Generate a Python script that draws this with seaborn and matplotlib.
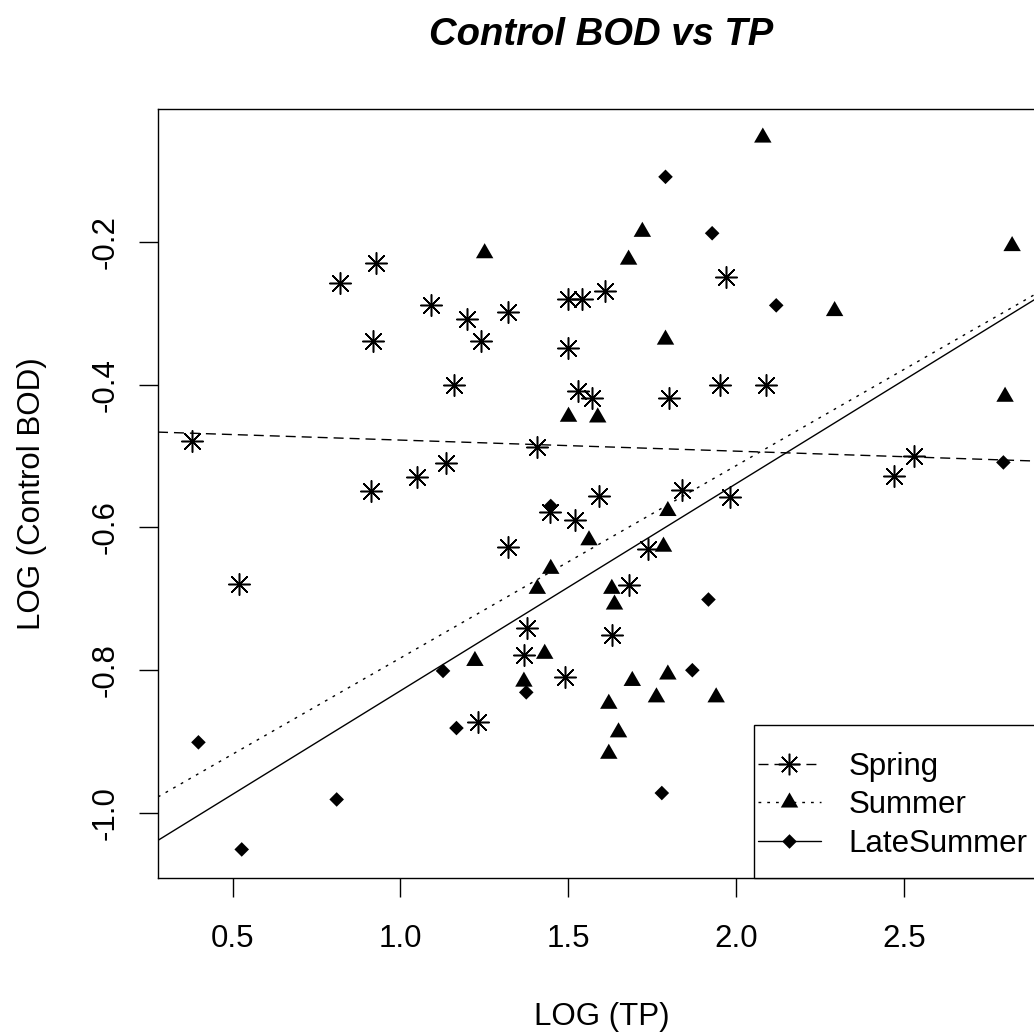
import numpy as np
import pandas as pd
import matplotlib
matplotlib.use("Agg")
import matplotlib.pyplot as plt
from matplotlib.path import Path
from matplotlib.lines import Line2D
from matplotlib.patches import Rectangle
import seaborn as sns

# ---------------- data ----------------
spring_x = [0.379, 0.520, 0.820, 0.928, 0.917, 0.912, 1.090, 1.048, 1.160, 1.137,
            1.199, 1.239, 1.321, 1.321, 1.231, 1.408, 1.378, 1.368, 1.447, 1.519,
            1.490, 1.500, 1.541, 1.499, 1.529, 1.571, 1.609, 1.591, 1.630, 1.681,
            1.738, 1.799, 1.839, 1.953, 1.971, 1.981, 2.090, 2.472, 2.530]
spring_y = [-0.479, -0.679, -0.258, -0.230, -0.339, -0.549, -0.289, -0.530, -0.400, -0.510,
            -0.308, -0.339, -0.299, -0.628, -0.872, -0.488, -0.741, -0.779, -0.579, -0.590,
            -0.810, -0.280, -0.280, -0.349, -0.409, -0.419, -0.269, -0.556, -0.750, -0.680,
            -0.630, -0.419, -0.548, -0.400, -0.249, -0.558, -0.400, -0.528, -0.500]

summer_x = [1.251, 1.501, 1.588, 2.080, 1.721, 1.680, 2.823, 2.294, 1.790, 2.802,
            1.562, 1.448, 1.408, 1.222, 1.430, 1.368, 1.797, 1.784, 1.630, 1.638,
            1.691, 1.797, 1.621, 1.763, 1.941, 1.650, 1.621]
summer_y = [-0.216, -0.445, -0.446, -0.054, -0.186, -0.225, -0.206, -0.297, -0.337, -0.417,
            -0.618, -0.658, -0.686, -0.787, -0.777, -0.816, -0.577, -0.627, -0.686, -0.708,
            -0.815, -0.806, -0.847, -0.838, -0.838, -0.887, -0.917]

late_x = [1.790, 1.929, 2.120, 2.797, 1.448, 1.127, 1.375, 1.167, 0.398, 0.810,
          0.527, 1.918, 1.870, 1.779]
late_y = [-0.109, -0.188, -0.289, -0.509, -0.570, -0.801, -0.831, -0.881, -0.901, -0.981,
          -1.051, -0.701, -0.800, -0.972]

seasons = ["Spring", "Summer", "LateSummer"]
fit_intercept = [-0.4622, -1.0522, -1.1187]
fit_slope = [-0.0155, 0.2693, 0.2899]

x_ticks = [0.5, 1.0, 1.5, 2.0, 2.5]
x_tick_labels = ["0.5", "1.0", "1.5", "2.0", "2.5"]
y_ticks = [-1.0, -0.8, -0.6, -0.4, -0.2]
y_tick_labels = ["-1.0", "-0.8", "-0.6", "-0.4", "-0.2"]

title = "Control BOD vs TP"
x_label = "LOG (TP)"
y_label = "LOG (Control BOD)"

# ---------------- styling ----------------
sns.set_theme(style="ticks", rc={
    "axes.edgecolor": "black", "text.color": "black", "axes.labelcolor": "black",
    "xtick.color": "black", "ytick.color": "black", "axes.linewidth": 1.0,
    "axes.unicode_minus": False,
})
plt.rcParams["font.family"] = ["Liberation Sans", "DejaVu Sans"]

df = pd.concat([
    pd.DataFrame({"x": spring_x, "y": spring_y, "season": "Spring"}),
    pd.DataFrame({"x": summer_x, "y": summer_y, "season": "Summer"}),
    pd.DataFrame({"x": late_x, "y": late_y, "season": "LateSummer"}),
], ignore_index=True)

tri = Path([(0, 1), (-0.866, -0.5), (0.866, -0.5), (0, 1)],
           [Path.MOVETO, Path.LINETO, Path.LINETO, Path.CLOSEPOLY])
dia = Path([(0, 1), (1, 0), (0, -1), (-1, 0), (0, 1)],
           [Path.MOVETO, Path.LINETO, Path.LINETO, Path.LINETO, Path.CLOSEPOLY])
ast = (8, 2, 0)

marker_map = {"Spring": ast, "Summer": tri, "LateSummer": dia}
size_map = {"Spring": 15.5, "Summer": 14.5, "LateSummer": 10.5}
ls_map = {"Spring": (0, (7.2, 4.3)), "Summer": (0, (2.0, 4.3)), "LateSummer": "-"}

FS = 22.5
fig = plt.figure(figsize=(10.34, 10.32), dpi=100)
ax = fig.add_axes([158 / 1034, 1 - 878 / 1032, (1045 - 158) / 1034, (878 - 109) / 1032])

for s in seasons:
    sub = df[df["season"] == s]
    if s == "Spring":
        sns.scatterplot(data=sub, x="x", y="y", ax=ax, marker=marker_map[s],
                        s=size_map[s] ** 2, color="black", linewidth=1.1, legend=False)
    else:
        sns.scatterplot(data=sub, x="x", y="y", ax=ax, marker=marker_map[s],
                        s=size_map[s] ** 2, color="black", edgecolor="none",
                        linewidth=0, legend=False)

for s, b, m in zip(seasons, fit_intercept, fit_slope):
    ax.axline((0, b), slope=m, color="black", lw=1.0, ls=ls_map[s])

ax.set_xlim(0.2775, 2.921)
ax.set_ylim(-1.091, -0.014)
ax.set_xticks(x_ticks)
ax.set_xticklabels(x_tick_labels)
ax.set_yticks(y_ticks)
ax.set_yticklabels(y_tick_labels)
ax.tick_params(axis="both", direction="out", length=13.5, width=1.0, labelsize=FS,
               bottom=True, left=True)
ax.tick_params(axis="x", pad=19.5)
ax.tick_params(axis="y", pad=13.3, labelrotation=90)
for lab in ax.get_yticklabels():
    lab.set_va("center")

ax.set_xlabel(x_label, fontsize=FS)
ax.set_ylabel(y_label, fontsize=FS)
ax.xaxis.set_label_coords(0.5, -0.1612)
ax.yaxis.set_label_coords(-0.1257, 0.5)
ax.set_title(title, fontsize=27.5, fontweight="bold", fontstyle="italic", y=1.0832, pad=0)

# legend box (R-style, asymmetric padding) and legend entries
ax.add_patch(Rectangle((0.6719, 0.0), 0.3281, 0.1990, transform=ax.transAxes,
                       facecolor="white", edgecolor="black", lw=1.0, zorder=4,
                       clip_on=False))
handles = [
    Line2D([], [], color="black", lw=1.0, ls=ls_map[s], marker=marker_map[s],
           markersize=size_map[s], markeredgewidth=(1.1 if s == "Spring" else 0),
           markerfacecolor="black", markeredgecolor="black")
    for s in seasons
]
leg = ax.legend(handles, seasons, loc="lower right", bbox_to_anchor=(1.0, 0.003),
                frameon=False, borderaxespad=0, fontsize=FS,
                handlelength=2.0, handletextpad=0.9, labelspacing=0.26, borderpad=0.55)
leg.set_zorder(5)

fig.savefig("out.png", dpi=100)
